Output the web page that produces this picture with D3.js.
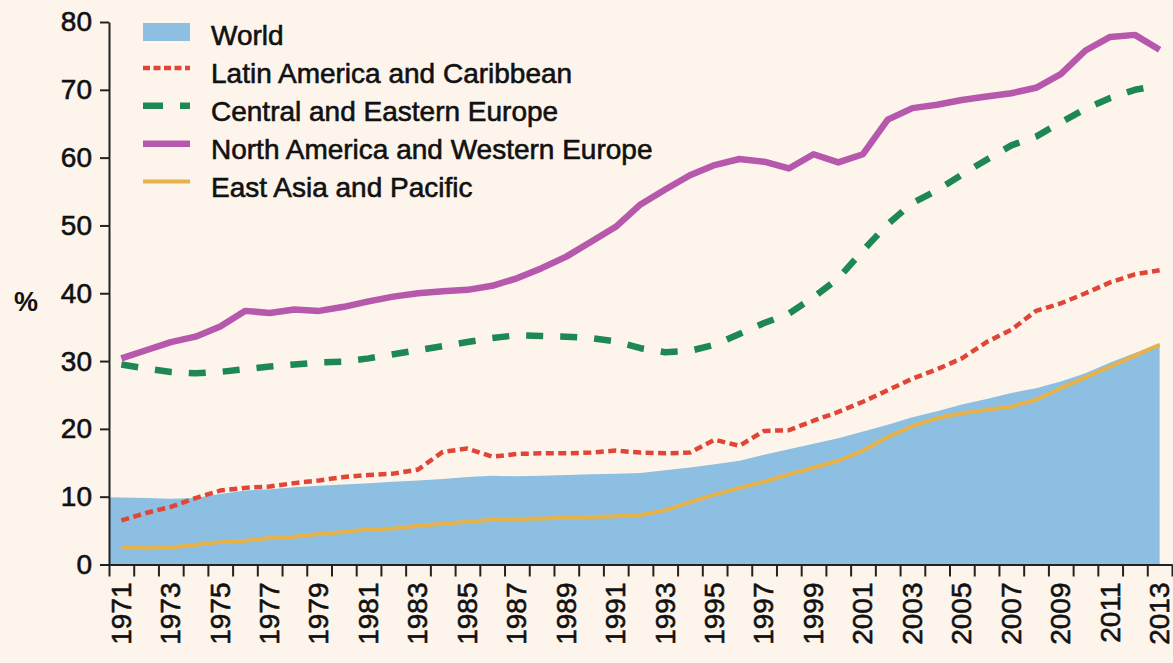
<!DOCTYPE html>
<html>
<head>
<meta charset="utf-8">
<script src="https://cdn.jsdelivr.net/npm/d3@7/dist/d3.min.js"></script>
<style>
  body { margin: 0; background: #fdf5ec; }
  svg { display: block; }
  .axis text { font-family: "Liberation Sans", Arial, sans-serif; font-size: 28px; fill: #111; stroke: #111; stroke-width: 0.6px; }
  .axis path, .axis line { stroke: #222; stroke-width: 2; }
  .legend text { font-family: "Liberation Sans", Arial, sans-serif; font-size: 28px; fill: #111; stroke: #111; stroke-width: 0.6px; }
</style>
</head>
<body>
<svg id="chart"></svg>
<script>
var years = d3.range(1971, 2014);

var world = [9.9, 9.8, 9.7, 9.8, 10.4, 10.9, 11.1, 11.4, 11.6, 11.8,
  12.0, 12.2, 12.4, 12.6, 12.9, 13.1, 13.0, 13.1, 13.2, 13.3,
  13.4, 13.5, 13.9, 14.3, 14.8, 15.3, 16.2, 17.0, 17.8, 18.6,
  19.6, 20.6, 21.7, 22.6, 23.6, 24.4, 25.3, 26.0, 27.0, 28.2,
  29.8, 31.2, 32.6];

var latinAmerica = [6.5, 7.6, 8.5, 9.8, 10.9, 11.3, 11.5, 12.0, 12.4, 12.9,
  13.2, 13.4, 14.0, 16.6, 17.1, 15.9, 16.3, 16.4, 16.4, 16.5,
  16.8, 16.5, 16.4, 16.5, 18.4, 17.5, 19.7, 19.8, 21.2, 22.5,
  24.0, 25.7, 27.4, 28.8, 30.4, 32.8, 34.6, 37.4, 38.5, 40.0,
  41.6, 42.8, 43.4];

var centralEurope = [29.5, 28.9, 28.4, 28.2, 28.4, 28.8, 29.2, 29.5, 29.8, 29.9,
  30.4, 31.0, 31.6, 32.2, 32.8, 33.4, 33.8, 33.7, 33.6, 33.4,
  32.9, 31.9, 31.3, 31.5, 32.4, 34.0, 35.6, 37.0, 39.4, 42.2,
  46.3, 50.2, 53.3, 55.2, 57.5, 59.7, 61.8, 63.1, 65.2, 67.2,
  68.8, 70.0, 70.7];

var northAmerica = [30.4, 31.6, 32.8, 33.6, 35.1, 37.4, 37.1, 37.6, 37.4, 38.0,
  38.8, 39.5, 40.0, 40.3, 40.5, 41.1, 42.2, 43.7, 45.4, 47.6,
  49.8, 53.1, 55.3, 57.4, 58.9, 59.8, 59.4, 58.4, 60.5, 59.3,
  60.5, 65.6, 67.3, 67.8, 68.5, 69.0, 69.5, 70.3, 72.3, 75.8,
  77.8, 78.1, 75.9];

var eastAsia = [2.5, 2.4, 2.5, 2.9, 3.3, 3.5, 3.9, 4.1, 4.5, 4.8,
  5.2, 5.3, 5.7, 6.0, 6.3, 6.6, 6.7, 6.8, 6.9, 7.0,
  7.1, 7.3, 8.0, 9.2, 10.3, 11.3, 12.2, 13.3, 14.3, 15.3,
  16.8, 18.8, 20.4, 21.6, 22.3, 22.8, 23.3, 24.3, 26.0, 27.6,
  29.2, 30.8, 32.4];

var yTicks = [0, 10, 20, 30, 40, 50, 60, 70, 80];
var xLabelYears = years.filter(function(y) { return y % 2 === 1; });

var width = 1173, height = 663;

var svg = d3.select("#chart")
    .attr("width", width)
    .attr("height", height);

svg.append("rect")
    .attr("width", width)
    .attr("height", height)
    .attr("fill", "#fdf5ec");

var x = d3.scaleLinear()
    .domain([1970.5, 2013.5])
    .range([109, 1172]);

var y = d3.scaleLinear()
    .domain([0, 80])
    .range([564.5, 22]);

// world area, starts flush against the y axis
var worldData = years.map(function(yr, i) { return { year: yr, value: world[i] }; });
var area = d3.area()
    .x(function(d, i) { return i === 0 ? x(x.domain()[0]) : x(d.year); })
    .y0(y(0))
    .y1(function(d) { return y(d.value); });

svg.append("path")
    .datum(worldData)
    .attr("fill", "#8cbfe1")
    .attr("d", area);

var series = [
  { name: "East Asia and Pacific", values: eastAsia, color: "#e8b24a", width: 4, dash: null },
  { name: "Latin America and Caribbean", values: latinAmerica, color: "#df4637", width: 4.5, dash: "8,4.5" },
  { name: "Central and Eastern Europe", values: centralEurope, color: "#1d8755", width: 6.5, dash: "17,17" },
  { name: "North America and Western Europe", values: northAmerica, color: "#b659ac", width: 6.5, dash: null }
];

var line = d3.line()
    .x(function(d) { return x(d.year); })
    .y(function(d) { return y(d.value); });

series.forEach(function(s) {
  var pts = years.map(function(yr, i) { return { year: yr, value: s.values[i] }; });
  svg.append("path")
      .datum(pts)
      .attr("fill", "none")
      .attr("stroke", s.color)
      .attr("stroke-width", s.width)
      .attr("stroke-linejoin", "round")
      .attr("stroke-dasharray", s.dash)
      .attr("d", line);
});

// y axis
svg.append("g")
    .attr("class", "axis")
    .attr("transform", "translate(" + x(x.domain()[0]) + ",0)")
    .call(d3.axisLeft(y).tickValues(yTicks).tickSize(9).tickPadding(8).tickSizeOuter(0));

svg.append("text")
    .attr("x", 26)
    .attr("y", 304)
    .attr("text-anchor", "middle")
    .attr("dominant-baseline", "middle")
    .style("font-family", "Liberation Sans, Arial, sans-serif")
    .style("font-size", "27px")
    .style("font-weight", "bold")
    .style("fill", "#111")
    .text("%");

// x axis: ticks on year boundaries, labels on odd years
var boundaries = d3.range(1970.5, 2014, 1);
svg.append("g")
    .attr("class", "axis")
    .attr("transform", "translate(0," + y(0) + ")")
    .call(d3.axisBottom(x).tickValues(boundaries).tickSize(12).tickSizeOuter(0).tickFormat(""));

var xLab = svg.append("g")
    .attr("class", "axis")
    .attr("transform", "translate(0," + y(0) + ")")
    .call(d3.axisBottom(x).tickValues(xLabelYears).tickSize(0).tickFormat(d3.format("d")));
xLab.select(".domain").remove();
xLab.selectAll("text")
    .attr("transform", "rotate(-90)")
    .attr("text-anchor", "end")
    .attr("x", -18)
    .attr("y", -1)
    .attr("dy", "0.35em");

// legend
var legendItems = [
  { name: "World", type: "area", color: "#8cbfe1" },
  { name: "Latin America and Caribbean", color: "#df4637", width: 4.5, dash: "7,3.5" },
  { name: "Central and Eastern Europe", color: "#1d8755", width: 6.5, dash: "20,17" },
  { name: "North America and Western Europe", color: "#b659ac", width: 6.5, dash: null },
  { name: "East Asia and Pacific", color: "#e8b24a", width: 4, dash: null }
];

var legend = svg.append("g").attr("class", "legend");
legendItems.forEach(function(d, i) {
  var base = 45 + i * 37.9;
  if (d.type === "area") {
    legend.append("rect")
        .attr("x", 143).attr("y", base - 22)
        .attr("width", 47).attr("height", 18)
        .attr("fill", d.color);
  } else {
    legend.append("line")
        .attr("x1", 143).attr("x2", 190)
        .attr("y1", base - 15).attr("y2", base - 15)
        .attr("stroke", d.color)
        .attr("stroke-width", d.width)
        .attr("stroke-dasharray", d.dash);
  }
  legend.append("text")
      .attr("x", 211)
      .attr("y", base)
      .text(d.name);
});
</script>
</body>
</html>
